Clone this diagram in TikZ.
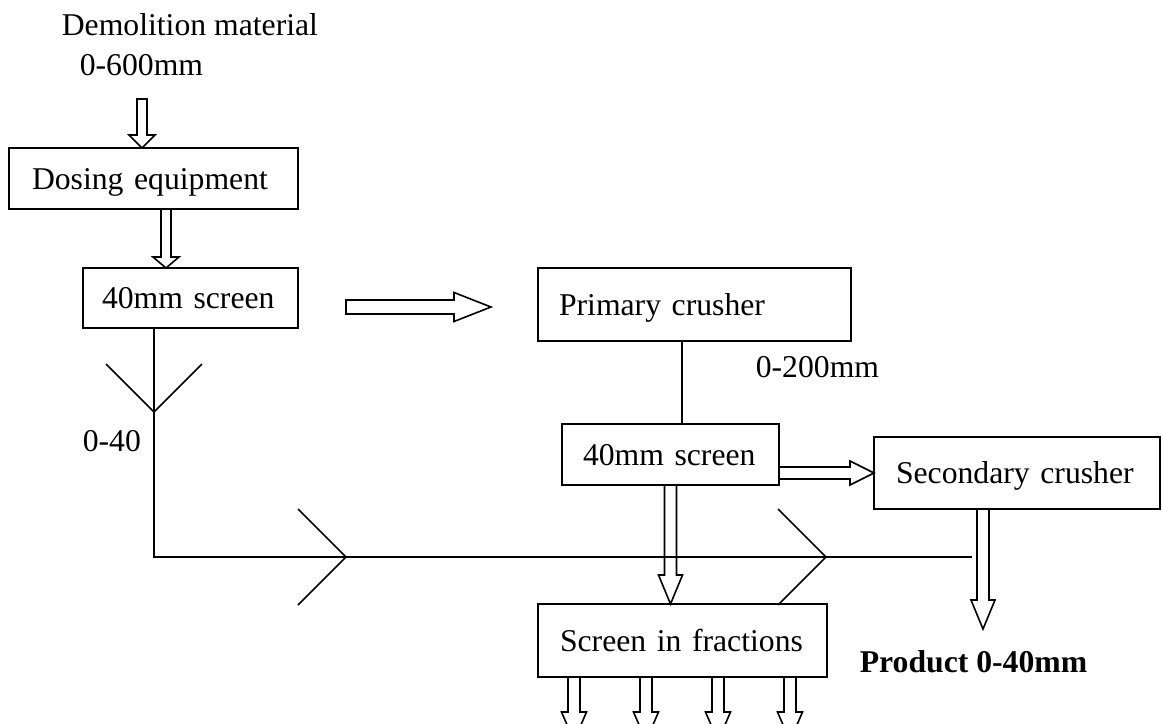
\documentclass[tikz,border=0pt]{standalone}
\usepackage{fontspec}
\setmainfont{Liberation Serif}
\usetikzlibrary{calc}

\newcommand{\flowfont}{\fontsize{31.7pt}{38pt}\selectfont}

\begin{document}
\begin{tikzpicture}[
  x=1pt, y=-1pt,
  line width=1.6pt,
  txt/.style={font=\flowfont, inner sep=0pt, anchor=base west},
  box/.style={draw, txt, anchor=north west, outer sep=0pt, align=left,
              inner ysep=0pt, text height=21pt, text depth=0pt},
  block down/.style n args={3}{to path={let \p1=(\tikztostart), \p2=(\tikztotarget) in
      (\x1-#1,\y1) -- (\x1+#1,\y1) -- (\x1+#1,\y2+#3) -- (\x1+#2,\y2+#3)
      -- (\x1,\y2) -- (\x1-#2,\y2+#3) -- (\x1-#1,\y2+#3) -- cycle}},
  block right/.style n args={3}{to path={let \p1=(\tikztostart), \p2=(\tikztotarget) in
      (\x1,\y1+#1) -- (\x2-#3,\y1+#1) -- (\x2-#3,\y1+#2) -- (\x2,\y1)
      -- (\x2-#3,\y1-#2) -- (\x2-#3,\y1-#1) -- (\x1,\y1-#1) -- cycle}},
]
  \useasboundingbox (0,0) rectangle (1162,723);
  \clip (0,0) rectangle (1162,723);

  % Feed labels
  \node[txt] (feedname) at (61,35) {Demolition material};
  \node[txt] (feedsize) at (79,75) {0-600mm};

  % Process boxes (top-left corners at explicit coordinates)
  \node[box, text width=243pt, inner xsep=23pt, minimum height=61pt] (dosing) at (9,148) {Dosing equipment};
  \node[box, text width=177pt, inner xsep=19pt, minimum height=60pt] (screen1) at (83,268) {40mm screen};
  \node[box, text width=271pt, inner xsep=21pt, minimum height=73pt] (primary) at (538,268) {Primary crusher};
  \node[box, text width=175pt, inner xsep=21pt, minimum height=61pt] (screen2) at (562,424) {40mm screen};
  \node[box, text width=242pt, inner xsep=22pt, minimum height=72pt] (secondary) at (874,437) {Secondary crusher};
  \node[box, text width=245pt, inner xsep=22pt, minimum height=73pt] (fractions) at (538,604) {Screen in fractions};

  % Other labels
  \node[txt] (fines) at (82,451) {0-40};
  \node[txt] (crushsize) at (755,377) {0-200mm};
  \node[txt, font=\flowfont\bfseries] (product) at (859,672) {Product 0-40mm};

  % Free ends
  \coordinate (feed) at (142,99);
  \coordinate (merge) at (972,557);
  \coordinate (prodtip) at (983,629);
  \coordinate (outlet) at (682,741);

  % Hollow block arrows
  \draw[block down={5pt}{13pt}{13pt}] (feed) to (dosing.north);
  \draw[block down={5pt}{13pt}{11pt}] ([xshift=12.5pt]dosing.south) to (screen1.north);
  \draw[block right={7pt}{14.5pt}{37pt}] ([shift={(48pt,-9pt)}]screen1.east) to ([xshift=-47pt]primary.west);
  \draw[block right={6pt}{12pt}{24pt}] ([yshift=-18.5pt]screen2.east) to (secondary.west);
  \draw[block down={6pt}{12pt}{29pt}] (screen2.south) to (fractions.north);
  \draw[block down={6pt}{12pt}{29pt}] ([xshift=-34pt]secondary.south) to (prodtip);
  \foreach \off in {36,108,180,252}
    \draw[block down={6pt}{12.5pt}{29pt}] ([xshift=\off pt]fractions.south west) to (outlet);

  % Plain lines
  \draw ([xshift=-12.5pt]primary.south) -- ([xshift=11.5pt]screen2.north);
  \draw ([xshift=-36.5pt]screen1.south) |- (merge);

  % Open chevrons on the fines line
  \draw (106,364) -- (154,412) -- (202,364);
  \foreach \cx in {346,826}
    \draw (\cx-48,509) -- (\cx,557) -- (\cx-48,605);
\end{tikzpicture}
\end{document}
